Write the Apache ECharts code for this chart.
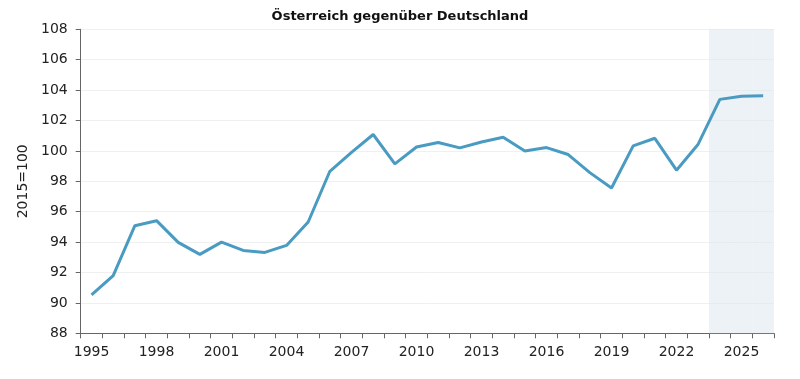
<!DOCTYPE html>
<html>
<head>
<meta charset="utf-8">
<script src="https://cdn.jsdelivr.net/npm/echarts@6/dist/echarts.min.js"></script>
<style>html,body{margin:0;padding:0;background:#fff}#c{width:800px;height:379px}</style>
</head>
<body>
<div id="c"></div>
<script>
const years = ['1995','1996','1997','1998','1999','2000','2001','2002','2003','2004','2005','2006','2007','2008','2009','2010','2011','2012','2013','2014','2015','2016','2017','2018','2019','2020','2021','2022','2023','2024','2025','2026'];
const values = [90.53,91.8,95.08,95.41,93.98,93.19,94.0,93.45,93.32,93.78,95.32,98.66,99.9,101.08,99.15,100.26,100.55,100.2,100.59,100.9,100.0,100.22,99.76,98.57,97.56,100.33,100.83,98.73,100.44,103.39,103.6,103.63];
const forecastYears = ['2024','2025','2026'];
const yMin = 88, yMax = 108, yStep = 2;
const title = 'Österreich gegenüber Deutschland';
const yName = '2015=100';

const shade = years.map(y => forecastYears.includes(y) ? yMax : null);
const font = 'DejaVu Sans';
const chart = echarts.init(document.getElementById('c'), null, {renderer: 'canvas'});
chart.setOption({
  animation: false,
  title: {text: title, left: 'center', top: 5, textStyle: {fontFamily: font, fontSize: 13, fontWeight: 'bold', color: '#111'}},
  grid: {left: 80.7, right: 26, top: 29.3, bottom: 45.7},
  xAxis: {
    type: 'category', data: years, boundaryGap: true,
    axisLine: {lineStyle: {color: '#666', width: 1}},
    axisTick: {show: true, length: 5, interval: 0, lineStyle: {color: '#666'}},
    axisLabel: {interval: 2, color: '#222', fontFamily: font, fontSize: 14, margin: 12},
    splitLine: {show: false}
  },
  yAxis: {
    type: 'value', min: yMin, max: yMax, interval: yStep,
    name: yName, nameLocation: 'middle', nameGap: 50, nameRotate: 90,
    nameTextStyle: {fontFamily: font, fontSize: 14, color: '#222'},
    axisLine: {show: true, lineStyle: {color: '#666'}},
    axisTick: {show: true, length: 5, lineStyle: {color: '#666'}},
    axisLabel: {color: '#222', fontFamily: font, fontSize: 14, margin: 13},
    splitLine: {show: true, lineStyle: {color: '#f0f0f0', width: 1}}
  },
  series: [
    {type: 'bar', data: shade, barWidth: '100%', barCategoryGap: '0%', itemStyle: {color: 'rgba(220,230,240,0.5)'}, silent: true, z: 1},
    {type: 'line', data: values, symbol: 'none', lineStyle: {color: '#4a9bc1', width: 3}, z: 3}
  ]
});
</script>
</body>
</html>
